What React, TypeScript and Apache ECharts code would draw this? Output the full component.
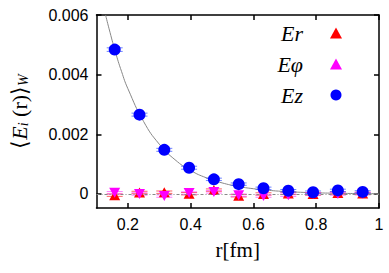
import React, { useEffect, useRef } from "react";
import * as echarts from "echarts";

const rValues = [0.158, 0.237, 0.316, 0.395, 0.474, 0.553, 0.632, 0.711, 0.79, 0.869, 0.948];
const ezValues = [0.00484, 0.00266, 0.00148, 0.00088, 0.00049, 0.00033, 0.00019, 0.00011, 0.00006, 0.00012, 0.00007];
const ezErrors = [0.00006, 0.00005, 0.00005, 0.00005, 0.00004, 0.00004, 0.00004, 0.00004, 0.00004, 0.00004, 0.00004];
const erValues = [-0.00004, 0.00005, 0.00006, 0.00001, 0.00013, -0.00006, 0.0, 0.00002, 0.0, 0.00003, 0.00002];
const erErrors = [0.00004, 0.00004, 0.00004, 0.00004, 0.00004, 0.00004, 0.00004, 0.00004, 0.00004, 0.00004, 0.00004];
const ephiValues = [0.00004, 0.0, -0.00007, 0.00003, 0.00007, -0.00004, -0.00007, -0.00004, 0.0, 0.0, 0.00001];
const ephiErrors = [0.00004, 0.00004, 0.00004, 0.00004, 0.00004, 0.00004, 0.00004, 0.00004, 0.00004, 0.00004, 0.00004];
const fitR = [0.129, 0.14, 0.16, 0.18, 0.2, 0.25, 0.3, 0.35, 0.4, 0.45, 0.5, 0.55, 0.6, 0.65, 0.7, 0.75, 0.8, 0.85, 0.9, 0.95, 1.0];
const fitValues = [0.006, 0.00554, 0.00477, 0.0041, 0.00353, 0.00243, 0.00167, 0.00115, 0.000788, 0.000542, 0.000372, 0.000256, 0.000176, 0.000121, 0.0000831, 0.0000571, 0.0000392, 0.000027, 0.0000185, 0.0000127, 0.0000087];
const xTicks = [0.2, 0.4, 0.6, 0.8, 1];
const yTicks = [0, 0.002, 0.004, 0.006];
const seriesNames = ["Er", "Eφ", "Ez"];

const SERIF = "Liberation Serif, Times New Roman, serif";

function errorSeries(values: number[], errors: number[], color: string) {
  return {
    type: "custom",
    silent: true,
    z: 3,
    data: rValues.map((r, i) => [r, values[i], errors[i]]),
    renderItem: (params: any, api: any) => {
      const x = api.value(0);
      const y = api.value(1);
      const e = api.value(2);
      const top = api.coord([x, y + e]);
      const bot = api.coord([x, y - e]);
      const hw = 8;
      const style = { stroke: color, lineWidth: 1, opacity: 0.7 };
      return {
        type: "group",
        children: [
          { type: "line", shape: { x1: top[0], y1: top[1], x2: bot[0], y2: bot[1] }, style },
          { type: "line", shape: { x1: top[0] - hw, y1: top[1], x2: top[0] + hw, y2: top[1] }, style },
          { type: "line", shape: { x1: bot[0] - hw, y1: bot[1], x2: bot[0] + hw, y2: bot[1] }, style },
        ],
      };
    },
  };
}

export default function App() {
  const ref = useRef<HTMLDivElement>(null);
  useEffect(() => {
    if (!ref.current) return;
    const chart = echarts.init(ref.current, undefined, { renderer: "svg" });
    const axisCommon = {
      axisLine: { show: true, onZero: false, lineStyle: { color: "#000", width: 1.5 } },
      axisTick: { show: true, inside: true, length: 5, lineStyle: { color: "#000", width: 1.5 } },
      splitLine: { show: false },
    };
    const labelStyle = { color: "#000", fontFamily: "Liberation Sans, Arial, sans-serif", fontSize: 16 };
    const fmt = (v: number) => (v === 0 ? "0" : String(parseFloat(v.toFixed(4))));
    chart.setOption({
      animation: false,
      backgroundColor: "#fff",
      grid: { left: 87, right: 10, top: 15, bottom: 65 },
      legend: {
        data: seriesNames,
        orient: "vertical",
        align: "right",
        right: 42,
        top: 17,
        itemGap: 9,
        itemWidth: 12,
        itemHeight: 11,
        selectedMode: false,
        textStyle: {
          fontFamily: SERIF,
          fontStyle: "italic",
          fontSize: 22,
          color: "#000",
          padding: [0, 22, 0, 0],
        },
      },
      xAxis: [
        {
          type: "value",
          min: 0.1,
          max: 1,
          position: "bottom",
          ...axisCommon,
          axisTick: { ...axisCommon.axisTick, customValues: xTicks },
          axisLabel: { ...labelStyle, customValues: xTicks, formatter: fmt, margin: 8 },
          name: "r[fm]",
          nameLocation: "middle",
          nameGap: 31,
          nameTextStyle: { fontFamily: SERIF, fontSize: 21, color: "#000" },
        },
        {
          type: "value",
          min: 0.1,
          max: 1,
          position: "top",
          ...axisCommon,
          axisTick: { ...axisCommon.axisTick, customValues: xTicks },
          axisLabel: { show: false },
        },
      ],
      yAxis: [
        {
          type: "value",
          min: -0.00047,
          max: 0.006,
          position: "left",
          ...axisCommon,
          axisTick: { ...axisCommon.axisTick, customValues: yTicks },
          axisLabel: { ...labelStyle, customValues: yTicks, formatter: fmt, margin: 8 },
          name: "{a|⟨}{e|E}{s|i}{a| (r)⟩}{w|W}",
          nameLocation: "middle",
          nameGap: 66,
          nameRotate: 90,
          nameTextStyle: {
            rich: {
              a: { fontFamily: SERIF, fontSize: 22, color: "#000" },
              e: { fontFamily: SERIF, fontStyle: "italic", fontSize: 22, color: "#000" },
              s: { fontFamily: SERIF, fontStyle: "italic", fontSize: 14, color: "#000", verticalAlign: "bottom", padding: [9, 0, 0, 0] },
              w: { fontFamily: SERIF, fontStyle: "italic", fontSize: 14, color: "#000", verticalAlign: "bottom", padding: [9, 0, 0, 0] },
            },
          },
        },
        {
          type: "value",
          min: -0.00047,
          max: 0.006,
          position: "right",
          ...axisCommon,
          axisTick: { ...axisCommon.axisTick, customValues: yTicks },
          axisLabel: { show: false },
        },
      ],
      series: [
        {
          name: "fit",
          type: "line",
          data: fitR.map((r, i) => [r, fitValues[i]]),
          showSymbol: false,
          symbol: "none",
          smooth: true,
          lineStyle: { color: "#888", width: 1 },
          z: 1,
          markLine: {
            silent: true,
            symbol: "none",
            label: { show: false },
            lineStyle: { color: "#888", width: 1, type: [3, 2, 1, 2] },
            data: [{ yAxis: 0 }],
          },
        },
        errorSeries(erValues, erErrors, "#ff2020"),
        errorSeries(ephiValues, ephiErrors, "#ff40ff"),
        errorSeries(ezValues, ezErrors, "#3050ff"),
        {
          name: "Er",
          type: "scatter",
          symbol: "triangle",
          symbolSize: [11, 10],
          itemStyle: { color: "#ff0000", opacity: 1 },
          data: rValues.map((r, i) => [r, erValues[i]]),
          z: 4,
        },
        {
          name: "Eφ",
          type: "scatter",
          symbol: "triangle",
          symbolRotate: 180,
          symbolSize: [11, 10],
          itemStyle: { color: "#ff00ff", opacity: 1 },
          data: rValues.map((r, i) => [r, ephiValues[i]]),
          z: 5,
        },
        {
          name: "Ez",
          type: "scatter",
          symbol: "circle",
          symbolSize: 12,
          itemStyle: { color: "#0000ff", opacity: 1 },
          data: rValues.map((r, i) => [r, ezValues[i]]),
          z: 6,
        },
      ],
    });
    return () => chart.dispose();
  }, []);
  return <div ref={ref} style={{ width: 389, height: 273, position: "absolute", left: 0, top: 0 }} />;
}
